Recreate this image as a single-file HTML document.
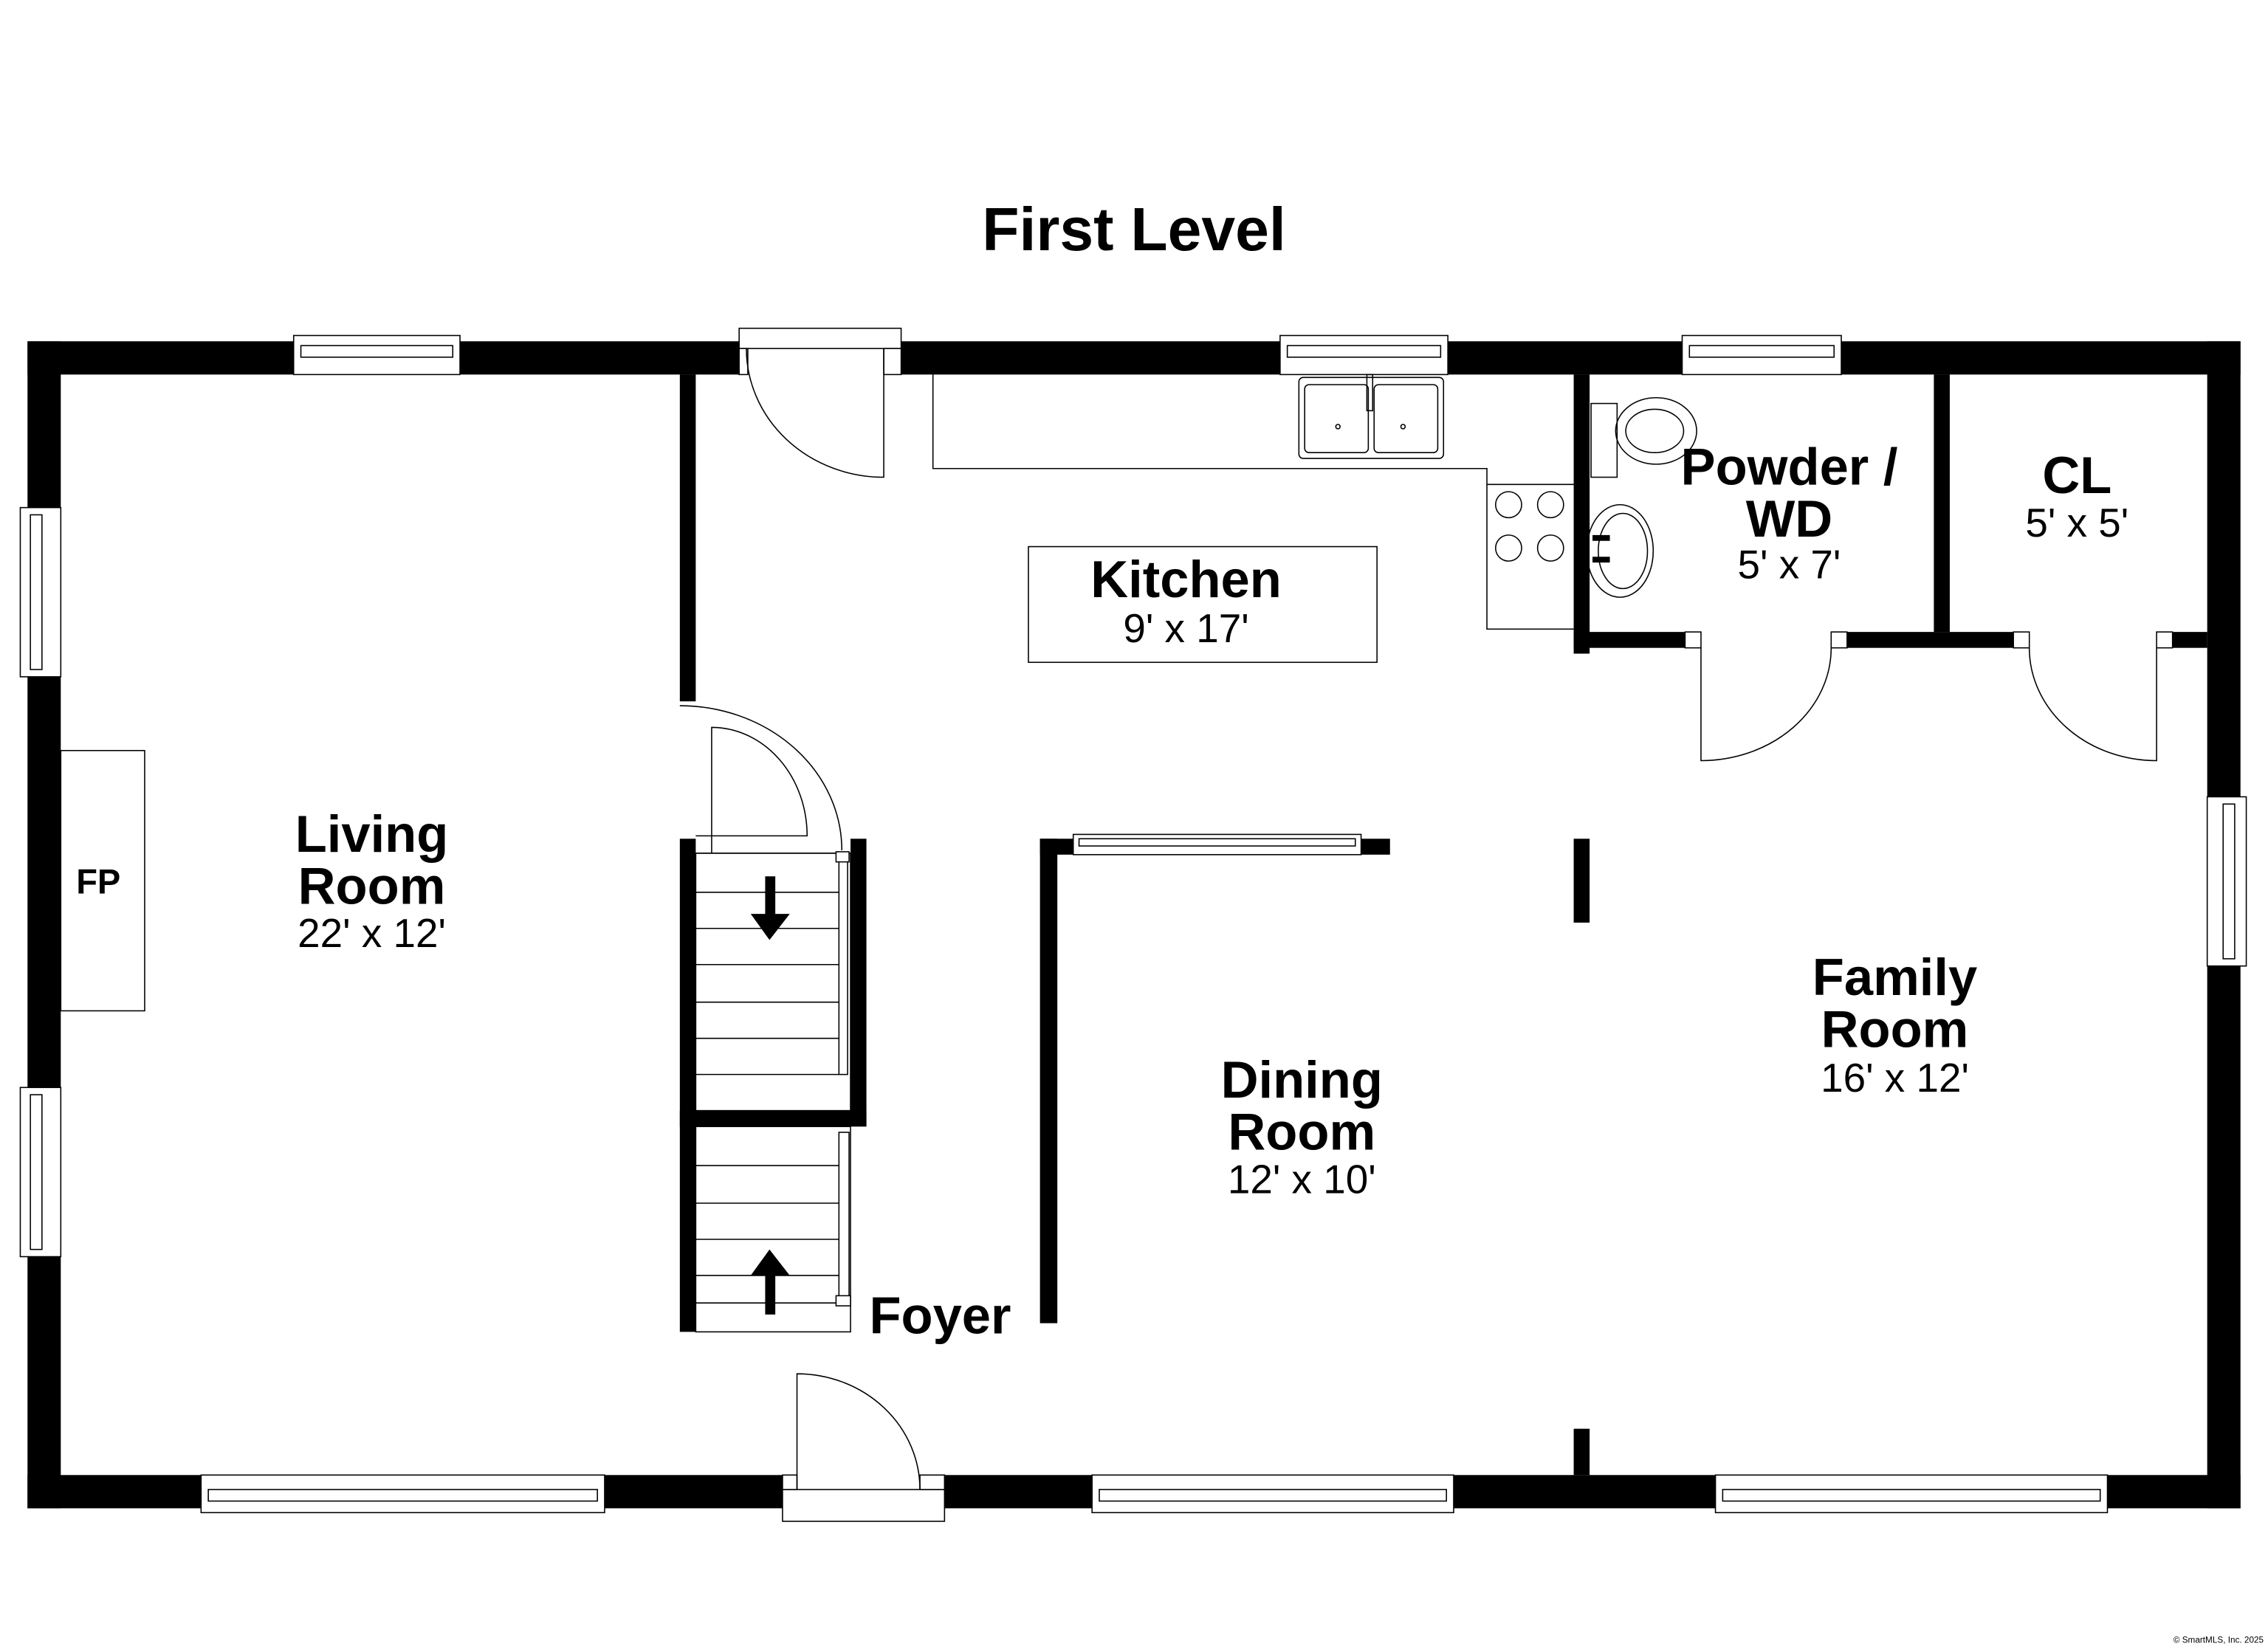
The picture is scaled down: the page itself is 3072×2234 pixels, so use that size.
<!DOCTYPE html>
<html><head><meta charset="utf-8"><style>
html,body{margin:0;padding:0;background:#fff;}
svg{display:block;}
text{font-family:"Liberation Sans",sans-serif;fill:#000;}
.b{font-weight:bold;font-size:36px;}
.d{font-size:28px;}
</style></head><body>
<svg width="3072" height="2234" viewBox="0 0 1568 1140.3" xmlns="http://www.w3.org/2000/svg">
<rect width="1568" height="1141" fill="#fff"/>
<g fill="#000">
<rect x="19" y="236" width="1530" height="23"/>
<rect x="19" y="236" width="23" height="807"/>
<rect x="19" y="1020" width="1530" height="23"/>
<rect x="1526" y="236" width="23" height="807"/>
<rect x="470" y="259" width="11" height="226"/>
<rect x="470" y="580" width="11" height="341"/>
<rect x="588" y="580" width="11" height="199"/>
<rect x="470" y="768" width="129" height="11"/>
<rect x="719" y="580" width="12" height="335"/>
<rect x="719" y="580" width="242" height="11"/>
<rect x="1088" y="580" width="11" height="58"/>
<rect x="1088" y="988" width="11" height="32"/>
<rect x="1088" y="259" width="11" height="193"/>
<rect x="1088" y="437" width="88" height="11"/>
<rect x="1266" y="437" width="137" height="11"/>
<rect x="1491" y="437" width="35" height="11"/>
<rect x="1337" y="259" width="11" height="178"/>
</g>
<rect x="541" y="1019" width="112" height="25" fill="#fff"/>
<rect x="511" y="235" width="112" height="25" fill="#fff"/>
<g fill="#fff" stroke="#000" stroke-width="0.8">
<rect x="203" y="232" width="115" height="27"/><rect x="208" y="239" width="105" height="8"/>
<rect x="885" y="232" width="116" height="27"/><rect x="890" y="239" width="106" height="8"/>
<rect x="1163" y="232" width="110" height="27"/><rect x="1168" y="239" width="100" height="8"/>
<rect x="511" y="227" width="112" height="14"/>
<rect x="511" y="241" width="6" height="18"/><rect x="611" y="241" width="12" height="18"/>
<rect x="14" y="351" width="28" height="117"/><rect x="21" y="356" width="8" height="107"/>
<rect x="14" y="752" width="28" height="117"/><rect x="21" y="757" width="8" height="107"/>
<rect x="1526" y="551" width="27" height="117"/><rect x="1537" y="556" width="8" height="107"/>
<rect x="139" y="1020" width="279" height="26"/><rect x="144" y="1030" width="269" height="8"/>
<rect x="755" y="1020" width="250" height="26"/><rect x="760" y="1030" width="240" height="8"/>
<rect x="1186" y="1020" width="271" height="26"/><rect x="1191" y="1030" width="261" height="8"/>
<rect x="541" y="1030" width="112" height="22"/>
<rect x="541" y="1020" width="10" height="10"/><rect x="636" y="1020" width="17" height="10"/>
<rect x="742" y="577" width="199" height="14"/><rect x="746" y="580" width="191" height="5"/>
<rect x="1165" y="437" width="11" height="11"/>
<rect x="1266" y="437" width="11" height="11"/>
<rect x="1392" y="437" width="11" height="11"/>
<rect x="1491" y="437" width="11" height="11"/>
</g>
<g fill="none" stroke="#000" stroke-width="0.8">
<path d="M611 241 V330 A95 89 0 0 1 516 241"/>
<path d="M1176 448 V526 A90 78 0 0 0 1266 448"/>
<path d="M1491 448 V526 A88 78 0 0 1 1403 448"/>
<path d="M551 1030 V950 A85 80 0 0 1 636 1030"/>
<path d="M481 578 H558 A66 75 0 0 0 492 503 V590"/>
<path d="M470 488 A112 100 0 0 1 582 588"/>
<rect x="481" y="590" width="107" height="178" fill="#fff"/>
<path d="M481 617 H580 M481 642 H580 M481 667 H580 M481 693 H580 M481 718 H580 M481 743 H580 M481 590 H580"/>
<rect x="580" y="590" width="6" height="153" fill="#fff"/>
<rect x="578" y="589" width="9" height="7" fill="#fff"/>
<rect x="481" y="779" width="107" height="142"/>
<path d="M481 806 H580 M481 832 H580 M481 857 H580 M481 882 H580 M481 901 H580"/>
<rect x="580" y="783" width="7" height="115" fill="#fff"/>
<rect x="578" y="896" width="10" height="7" fill="#fff"/>
<path d="M645 259 V324 H1028 V435 H1088"/>
<path d="M1028 335 H1088"/>
<rect x="898" y="261" width="100" height="56" rx="3"/>
<rect x="902" y="266" width="44" height="47" rx="3"/>
<rect x="950" y="266" width="44" height="47" rx="3"/>
<circle cx="925" cy="295" r="1.5"/><circle cx="970" cy="295" r="1.5"/>
<rect x="945" y="259" width="4" height="25"/>
<circle cx="1043" cy="349" r="9"/><circle cx="1072" cy="349" r="9"/>
<circle cx="1043" cy="379" r="9"/><circle cx="1072" cy="379" r="9"/>
<rect x="711" y="378" width="241" height="80"/>
<rect x="1100" y="279" width="18" height="51"/>
<ellipse cx="1145" cy="298" rx="28" ry="23"/>
<ellipse cx="1144" cy="298" rx="20" ry="15"/>
<ellipse cx="1120" cy="381" rx="23" ry="32"/>
<ellipse cx="1122" cy="381" rx="17" ry="26"/>
<rect x="42" y="519" width="58" height="180"/>
</g>
<g fill="#000">
<rect x="1101" y="370" width="12" height="4"/><rect x="1101" y="385" width="12" height="4"/>
<rect x="529" y="606" width="7" height="28"/><path d="M519 632 H546 L532 650 Z"/>
<rect x="529" y="880" width="7" height="29"/><path d="M519 882 H546 L532 864 Z"/>
</g>
<text x="784" y="173" text-anchor="middle" style="font-weight:bold;font-size:42px">First Level</text>
<text x="257" y="589" text-anchor="middle" class="b">Living</text>
<text x="257" y="625" text-anchor="middle" class="b">Room</text>
<text x="257" y="655" text-anchor="middle" class="d">22' x 12'</text>
<text x="68" y="618" text-anchor="middle" style="font-weight:bold;font-size:24px">FP</text>
<text x="820" y="413" text-anchor="middle" class="b">Kitchen</text>
<text x="820" y="444" text-anchor="middle" class="d">9' x 17'</text>
<text x="1237" y="335" text-anchor="middle" class="b">Powder /</text>
<text x="1237" y="371" text-anchor="middle" class="b">WD</text>
<text x="1237" y="400" text-anchor="middle" class="d">5' x 7'</text>
<text x="1436" y="341" text-anchor="middle" class="b">CL</text>
<text x="1436" y="371" text-anchor="middle" class="d">5' x 5'</text>
<text x="1310" y="688" text-anchor="middle" class="b">Family</text>
<text x="1310" y="724" text-anchor="middle" class="b">Room</text>
<text x="1310" y="755" text-anchor="middle" class="d">16' x 12'</text>
<text x="900" y="759" text-anchor="middle" class="b">Dining</text>
<text x="900" y="795" text-anchor="middle" class="b">Room</text>
<text x="900" y="825" text-anchor="middle" class="d">12' x 10'</text>
<text x="650" y="922" text-anchor="middle" class="b">Foyer</text>
<text x="1565" y="1136" text-anchor="end" style="font-size:6px">© SmartMLS, Inc. 2025</text>
</svg>
</body></html>
